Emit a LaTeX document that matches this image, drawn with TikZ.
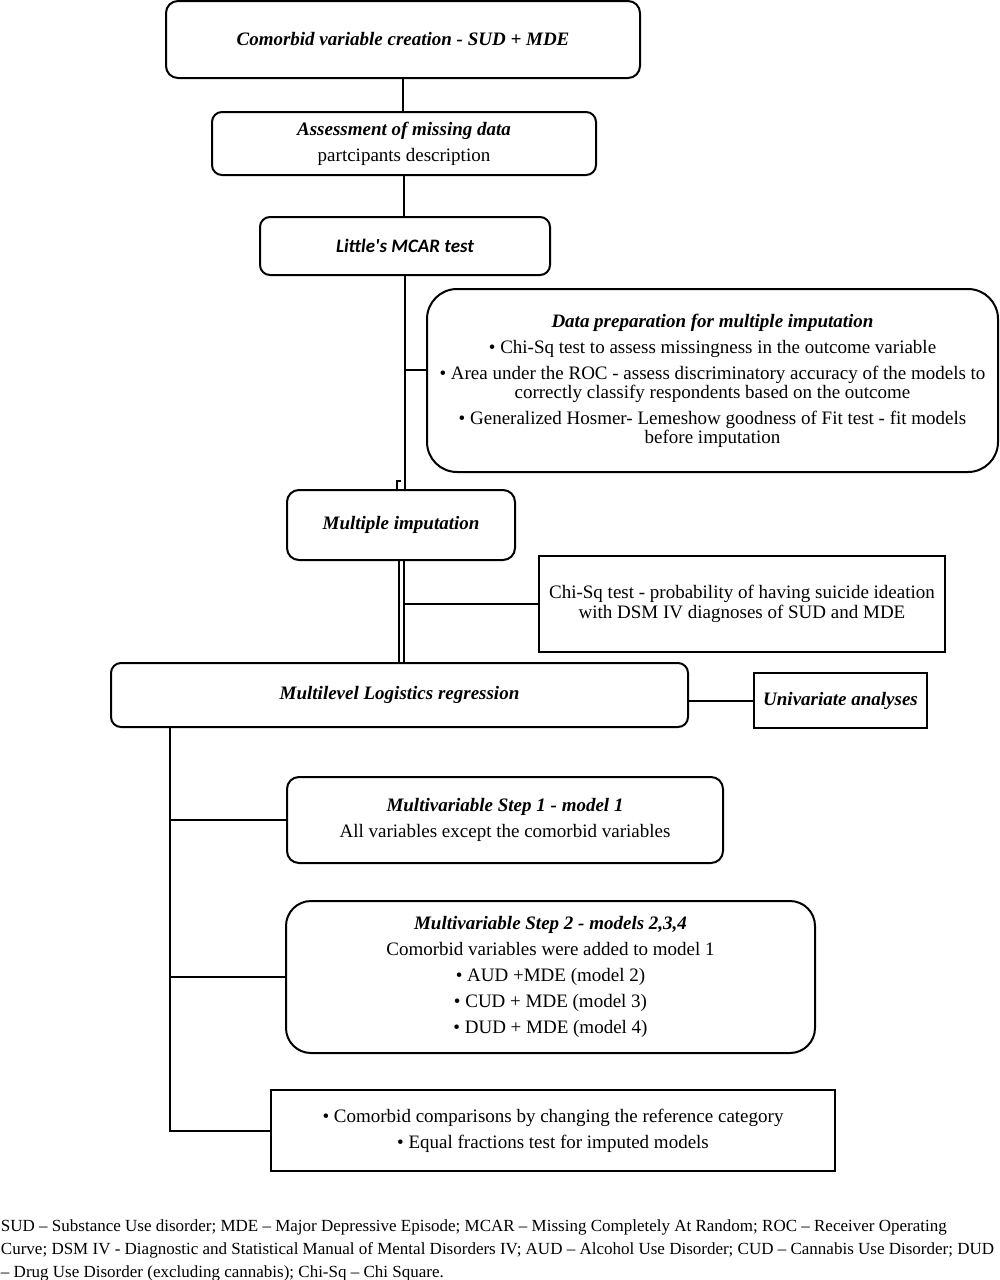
\documentclass[tikz,border=0pt]{standalone}
\usepackage{fontspec}
\setmainfont{Liberation Serif}
\newfontfamily\calibrifont{Carlito}
\newfontfamily\notefont{Liberation Serif}
\usetikzlibrary{positioning}

\begin{document}
\begin{tikzpicture}[x=1pt, y=-1pt, line width=2pt,
	mybox/.style={draw=black, inner sep=0pt, outer sep=0pt, align=center,
		font=\fontsize{19}{26}\selectfont},
	roundbox/.style={mybox, rounded corners=#1},
	roundbox/.default=12pt,
	sharpbox/.style={mybox}]
	\useasboundingbox (0,0) rectangle (1000,1280);
	\node[roundbox, minimum width=474pt, minimum height=77pt] (comorbid) at (403,39.5)
		{\bfseries\itshape Comorbid variable creation - SUD + MDE};
	\node[roundbox=10pt, minimum width=384pt, minimum height=63pt] (assess) at (404,143.5)
		{\textbf{\textit{Assessment of missing data}}\\ partcipants description};
	\node[roundbox=10pt, minimum width=290pt, minimum height=58pt] (mcar) at (405,246)
		{\calibrifont\bfseries\itshape Little\textquotesingle s MCAR test};
	\node[roundbox=30pt, minimum width=571pt, minimum height=183pt] (prep) at (712.5,380.5)
		{\textbf{\textit{Data preparation for multiple imputation}}\\
		\textbullet{} Chi-Sq test to assess missingness in the outcome variable\\
		\textbullet{} Area under the ROC - assess discriminatory accuracy of the models to\\[-7pt]
		correctly classify respondents based on the outcome\\
		\textbullet{} Generalized Hosmer- Lemeshow goodness of Fit test - fit models\\[-7pt]
		before imputation};
	\node[roundbox, minimum width=228pt, minimum height=70pt] (imput) at (401,525)
		{\textbf{\textit{Multiple imputation}}};
	\node[sharpbox, minimum width=406pt, minimum height=96pt] (chisq) at (742,604)
		{Chi-Sq test - probability of having suicide ideation\\[-6pt]
		with DSM IV diagnoses of SUD and MDE};
	\node[roundbox=10pt, minimum width=577pt, minimum height=64pt] (multi) at (399.5,695)
		{\textbf{\textit{Multilevel Logistics regression}}};
	\node[sharpbox, minimum width=173pt, minimum height=55pt] (univ) at (840.5,700.5)
		{\textbf{\textit{Univariate analyses}}};
	\node[roundbox, minimum width=436pt, minimum height=86pt] (step1) at (505,820)
		{\textbf{\textit{Multivariable Step 1 - model 1}}\\
		All variables except the comorbid variables};
	\node[roundbox=25pt, minimum width=529pt, minimum height=152pt] (step2) at (550.5,977)
		{\textbf{\textit{Multivariable Step 2 - models 2,3,4}}\\
		Comorbid variables were added to model 1\\
		\textbullet{} AUD +MDE (model 2)\\
		\textbullet{} CUD + MDE (model 3)\\
		\textbullet{} DUD + MDE (model 4)};
	\node[sharpbox, minimum width=564pt, minimum height=81pt] (compare) at (553,1130.5)
		{\textbullet{} Comorbid comparisons by changing the reference category\\
		\textbullet{} Equal fractions test for imputed models};
	\node[anchor=north west, inner sep=0pt, align=left,
		font=\notefont\fontsize{17}{23}\selectfont] (note) at (0,1219)
		{SUD – Substance Use disorder; MDE – Major Depressive Episode; MCAR – Missing Completely At Random; ROC – Receiver Operating\\
		Curve; DSM IV - Diagnostic and Statistical Manual of Mental Disorders IV; AUD – Alcohol Use Disorder; CUD – Cannabis Use Disorder; DUD\\
		– Drug Use Disorder (excluding cannabis); Chi-Sq – Chi Square.};
	% connectors
	\draw (comorbid.south) -- (comorbid.south |- assess.north);
	\draw (assess.south) -- (assess.south |- mcar.north);
	\draw (mcar.south) -- (mcar.south |- imput.north);
	\draw ([yshift=11pt]prep.west) -- ([yshift=11pt]prep.west -| mcar.south);
	\draw ([xshift=-4.5pt]imput.north) -- ++(0,-9) -- ++(4.5,0);
	\coordinate (imputleft) at ([xshift=-2.5pt]imput.south);
	\coordinate (imputright) at ([xshift=2.5pt]imput.south);
	\draw (imputleft) -- (imputleft |- multi.north);
	\draw (imputright) -- (imputright |- multi.north);
	\draw (chisq.west) -- (chisq.west -| imputright);
	\draw (univ.west) -- (univ.west -| multi.east);
	\coordinate (trunk) at ([xshift=59pt]multi.south west);
	\draw (trunk) |- (compare.west);
	\draw (trunk |- step1.west) -- (step1.west);
	\draw (trunk |- step2.west) -- (step2.west);
\end{tikzpicture}
\end{document}
